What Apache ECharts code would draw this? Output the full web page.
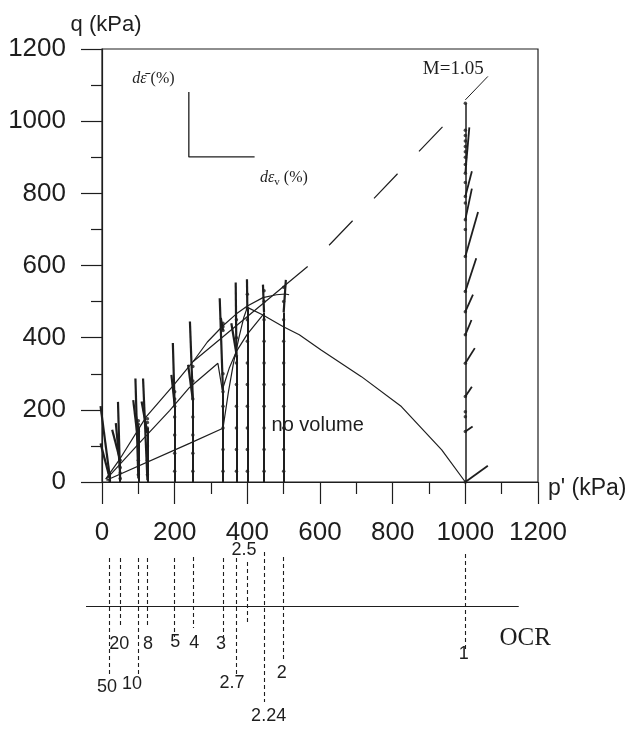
<!DOCTYPE html>
<html><head><meta charset="utf-8">
<script src="https://cdn.jsdelivr.net/npm/echarts@6/dist/echarts.min.js"></script>
<style>html,body{margin:0;padding:0;background:#fff}#c{width:631px;height:729px}</style>
</head><body><div id="c"></div>
<script>
// ---------- data ----------
const axisTickValues = [0, 200, 400, 600, 800, 1000, 1200];
const ocrValues = [50, 20, 10, 8, 5, 4, 3, 2.7, 2.5, 2.24, 2, 1];
const p0Values = [20, 50, 100, 125, 200, 250, 333, 370, 400, 446, 500, 1000];
const pathTopQ = [25, 60, 150, 150, 210, 230, 250, 350, 480, 470, 470, 1050];
const pathDotsQ = [
  [5, 15, 25],
  [10, 25, 40, 60],
  [20, 60, 100, 140, 150, 160, 170],
  [20, 60, 100, 140, 150, 165, 175],
  [30, 80, 130, 180, 210, 230, 250],
  [30, 80, 130, 180, 230, 280, 320],
  [30, 90, 150, 210, 250, 300, 420, 430, 440],
  [30, 90, 150, 210, 270, 330, 350, 400, 450],
  [30, 90, 150, 210, 270, 330, 390, 450, 480, 520],
  [30, 90, 150, 210, 270, 330, 390, 450, 500, 530],
  [30, 90, 150, 210, 270, 330, 390, 450, 500, 540],
  [0, 140, 181, 195, 237, 329, 408, 472, 528, 625, 700, 727, 773, 791, 830, 856, 880, 900, 915, 930, 945, 960, 975, 1050]
];
// strain-increment vectors of the over-consolidated paths: [p tail, q tail, p head, q head]
const vectorsOC = [
  [20, 25, -4, 210], [20, 15, -4, 107],
  [50, 5, 44, 222], [50, 60, 28, 145], [50, 35, 38, 163],
  [100, 10, 92, 287], [100, 107, 86, 227], [100, 150, 92, 190],
  [125, 5, 113, 287], [125, 135, 109, 223],
  [200, 210, 195, 385], [200, 214, 191, 297],
  [250, 230, 242, 445], [250, 228, 237, 325],
  [333, 250, 324, 509], [333, 420, 327, 455],
  [370, 350, 368, 553], [370, 355, 356, 440],
  [400, 480, 399, 562],
  [446, 470, 443, 547],
  [500, 470, 506, 560]
];
// vectors of the normally consolidated path (p = 1000): [q tail, p head, q head]
const vectorsNC = [
  [0, 1062, 45], [140, 1020, 154], [237, 1018, 264], [329, 1026, 371],
  [408, 1017, 449], [472, 1021, 519], [528, 1030, 620], [625, 1035, 748],
  [727, 1018, 813], [791, 1018, 861], [856, 1011, 983]
];
const noVolumeCurve = [[12, 5], [241, 107], [333, 149], [348, 250], [362, 330], [378, 405], [390, 455], [400, 484],
  [443, 463], [498, 431], [543, 408], [603, 366], [714, 292], [824, 209], [935, 89], [1000, 0]];
const middleCurve = [[12, 8], [100, 105], [186, 198], [241, 262], [319, 329], [331, 255], [350, 315], [370, 362], [400, 410], [443, 463]];
const upperLine = [[10, 8], [50, 65], [122, 181], [200, 272], [251, 334], [566, 597]];
const peakArc = [[251, 334], [290, 388], [333, 433], [370, 466], [400, 488], [443, 511], [480, 519], [505, 521], [515, 519]];
const cslDashed = [[566, 594], [990, 1040]];
const mLeader = [[1000, 1059], [1062, 1124]];
const scaleBar = [[239, 1081], [239, 901], [420, 901]];
// OCR strip below the plot (vertical offset values of the strip)
const ocrLineTop = [18, 18, 18, 18, 18, 17, 18, 18, 22, 12, 17, 14];
const ocrLineBottom = [135, 87, 135, 87, 97, 88, 97, 135, 83, 162, 120, 112];
const ocrLabelP = [15, 49, 84, 128, 203, 255, 329, 359, 392, 460, 496, 997];
const ocrLabelV = [148, 105, 145, 105, 103, 104, 105, 144, 11, 177, 134, 115];
const ocrBaseLine = [[-44, 66.7], [1147, 66.7]];
const ocrTitlePos = [1166, 98.5];
const mLabelPos = [968, 1143];
const noVolumePos = [595, 155];
const dEqLabelPos = [143, 1115];
const dEvLabelPos = [502, 843];

// ---------- build ----------
const INK = '#1e1e1e';
const SANS = 'Liberation Sans';
const SERIF = 'Liberation Serif';
const series = [];
function line(data, width, extra) {
  series.push(Object.assign({ type: 'line', data: data, symbol: 'none', silent: true, clip: false,
    lineStyle: { color: INK, width: width } }, extra || {}));
}
function segs(coordsList, width, extra, gi) {
  series.push(Object.assign({ type: 'lines', coordinateSystem: 'cartesian2d', xAxisIndex: gi || 0, yAxisIndex: gi || 0,
    silent: true, clip: false, polyline: false,
    lineStyle: { color: INK, width: width, opacity: 1 },
    data: coordsList.map(c => ({ coords: c })) }, extra || {}));
}
function text(pos, str, style, gi) {
  series.push({ type: 'scatter', xAxisIndex: gi || 0, yAxisIndex: gi || 0, silent: true, clip: false,
    symbolSize: 1, data: [pos], itemStyle: { opacity: 0 },
    label: Object.assign({ show: true, position: [0, 0], align: 'center', verticalAlign: 'middle',
      formatter: str, color: INK, opacity: 1, textBorderWidth: 0 }, style) });
}

line(noVolumeCurve, 1.2);
line(middleCurve, 1.2);
line(upperLine, 1.2);
line(peakArc, 1.2);
line(cslDashed, 1.2, { lineStyle: { color: INK, width: 1.2, type: [34, 31], dashOffset: 34 } });
line(mLeader, 1);
line(scaleBar, 1.3);

// stress paths
segs(p0Values.map((p, i) => [[p, 0], [p, pathTopQ[i]]]).slice(0, 11), 2);
segs([[[1000, 0], [1000, 1050]]], 1.5);
// dots
const dotData = [];
p0Values.forEach((p, i) => pathDotsQ[i].forEach(q => dotData.push([p, q])));
series.push({ type: 'scatter', data: dotData, symbolSize: 3.5, silent: true, clip: false,
  itemStyle: { color: INK } });
// vectors
segs(vectorsOC.map(v => [[v[0], v[1]], [v[2], v[3]]]), 2.2);
segs(vectorsNC.map(v => [[1000, v[0]], [v[1], v[2]]]), 1.8);

// texts
text(mLabelPos, 'M=1.05', { fontFamily: SERIF, fontSize: 19 });
text(noVolumePos, 'no volume', { fontFamily: SANS, fontSize: 20 });
text(dEqLabelPos, '{i|dε̄} (%)', { fontFamily: SERIF, fontSize: 16, rich: { i: { fontFamily: SERIF, fontStyle: 'italic', fontSize: 16, color: INK } } });
text(dEvLabelPos, '{i|dε}{s|v}{n| (%)}', { fontFamily: SERIF, fontSize: 16,
  rich: { i: { fontFamily: SERIF, fontStyle: 'italic', fontSize: 16, color: INK },
          s: { fontFamily: SERIF, fontSize: 11, color: INK, padding: [9, 0, 0, 0] },
          n: { fontFamily: SERIF, fontSize: 16, color: INK } } });

// OCR strip
segs([ocrBaseLine], 1.2, {}, 1);
segs(p0Values.map((p, i) => [[p, ocrLineTop[i]], [p, ocrLineBottom[i]]]), 1.1,
  { lineStyle: { color: INK, width: 1.1, type: [4, 3], opacity: 1 } }, 1);
ocrValues.forEach((o, i) => text([ocrLabelP[i], ocrLabelV[i]], String(o), { fontFamily: SANS, fontSize: 18 }, 1));
text(ocrTitlePos, 'OCR', { fontFamily: SERIF, fontSize: 25 }, 1);

const tickStyle = { color: INK, width: 1.2 };
const plain = v => String(v);
const option = {
  animation: false,
  backgroundColor: '#fff',
  grid: [
    { left: 102, right: 93, top: 49, bottom: 247, show: true, borderColor: INK, borderWidth: 1.2, backgroundColor: 'transparent' },
    { left: 102, right: 93, top: 540, height: 180 }
  ],
  xAxis: [
    { type: 'value', gridIndex: 0, min: axisTickValues[0], max: axisTickValues[axisTickValues.length - 1], interval: axisTickValues[1] - axisTickValues[0],
      name: "p' (kPa)", nameLocation: 'end', nameGap: 10,
      nameTextStyle: { fontSize: 23, fontFamily: SANS, color: INK, align: 'left', verticalAlign: 'top', lineHeight: 13 },
      axisLine: { lineStyle: tickStyle }, axisTick: { inside: false, length: 22, lineStyle: tickStyle },
      minorTick: { show: true, splitNumber: 2, length: 12, lineStyle: tickStyle },
      splitLine: { show: false }, minorSplitLine: { show: false },
      axisLabel: { fontSize: 26, fontFamily: SANS, color: INK, margin: 38, formatter: plain } },
    { type: 'value', gridIndex: 1, min: 0, max: 1200, show: false }
  ],
  yAxis: [
    { type: 'value', gridIndex: 0, min: axisTickValues[0], max: axisTickValues[axisTickValues.length - 1], interval: axisTickValues[1] - axisTickValues[0],
      name: 'q (kPa)', nameLocation: 'end', nameGap: 15,
      nameTextStyle: { fontSize: 22, fontFamily: SANS, color: INK, align: 'center', verticalAlign: 'middle', lineHeight: 22, padding: [0, 0, 0, 8] },
      axisLine: { lineStyle: tickStyle }, axisTick: { inside: false, length: 21, lineStyle: tickStyle },
      minorTick: { show: true, splitNumber: 2, length: 11, lineStyle: tickStyle },
      splitLine: { show: false }, minorSplitLine: { show: false },
      axisLabel: { fontSize: 26, fontFamily: SANS, color: INK, margin: 36, formatter: plain } },
    { type: 'value', gridIndex: 1, min: 0, max: 180, inverse: true, show: false }
  ],
  series: series
};
const chart = echarts.init(document.getElementById('c'), null, { renderer: 'canvas' });
chart.setOption(option);
</script></body></html>
